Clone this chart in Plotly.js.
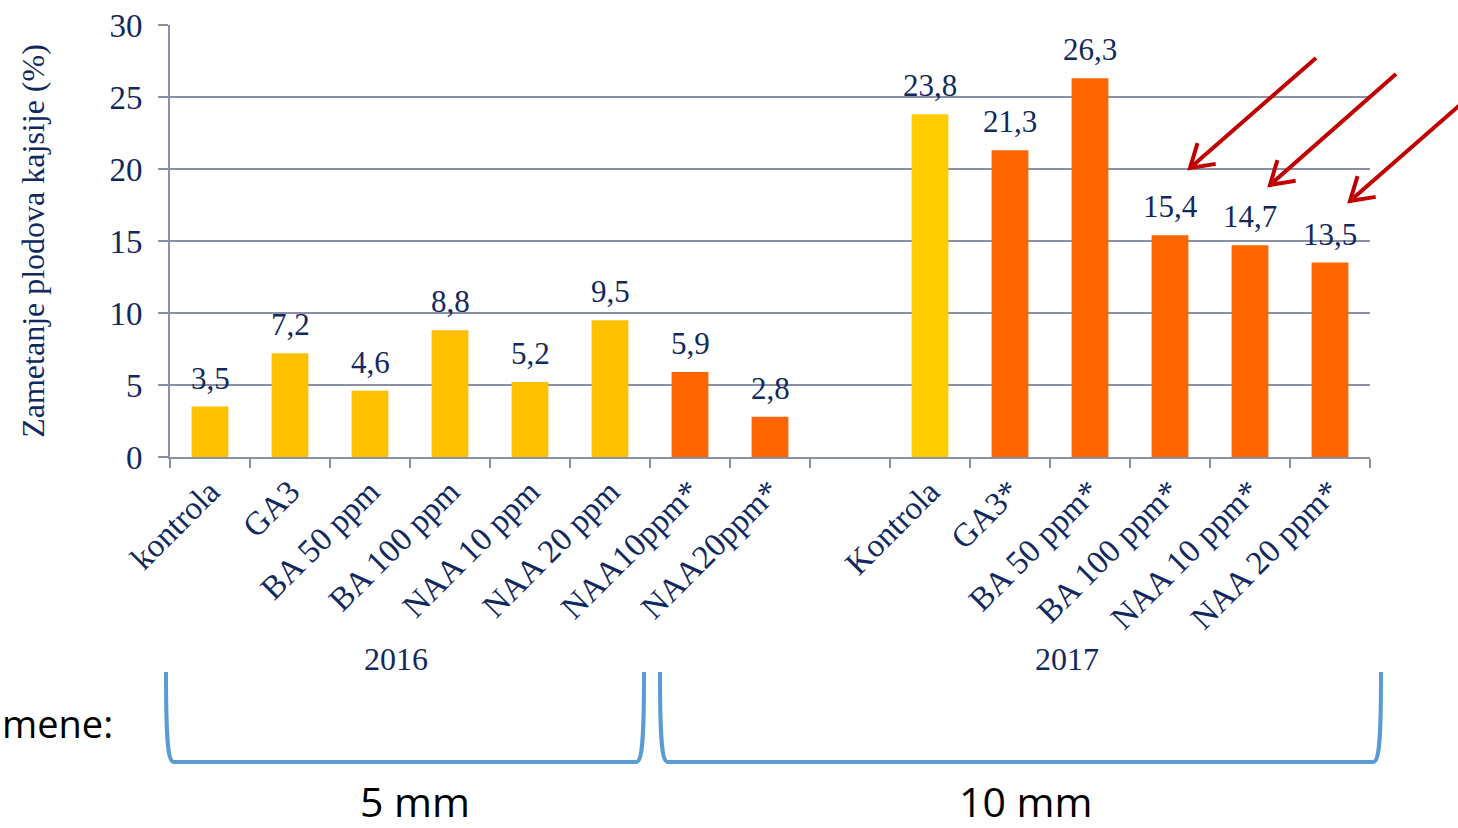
<!DOCTYPE html>
<html>
<head>
<meta charset="utf-8">
<script src="https://cdn.plot.ly/plotly-3.0.1.min.js"></script>
<style>html,body{margin:0;padding:0;background:#fff;}#chart{width:1458px;height:828px;}</style>
</head>
<body>
<div id="chart"></div>
<script>
// ---- data ----
const categories = ["kontrola","GA3","BA 50 ppm","BA 100 ppm","NAA 10 ppm","NAA 20 ppm","NAA10ppm*","NAA20ppm*"," ",
                    "Kontrola","GA3*","BA 50 ppm*","BA 100 ppm*","NAA 10 ppm*","NAA 20 ppm*"];
const values = [3.5,7.2,4.6,8.8,5.2,9.5,5.9,2.8,null,23.8,21.3,26.3,15.4,14.7,13.5];
const barColors = ["#FFC000","#FFC000","#FFC000","#FFC000","#FFC000","#FFC000","#FF6600","#FF6600","#FFFFFF",
                   "#FFCC00","#FF6600","#FF6600","#FF6600","#FF6600","#FF6600"];
const yearLabels = ["2016","2017"];
const sizeLabels = ["5 mm","10 mm"];
const yTitle = "Zametanje plodova kajsije (%)";

// ---- layout helpers (pixel -> paper) ----
const L=170, R=1370, T=25, B=457;
const W=R-L, H=B-T;
const px=x=>(x-L)/W, py=y=>(B-y)/H;

const navy="#11295E", grid="#8B90A6", serif="Liberation Serif";
const sans="Open Sans";

function arrowPath(tx,ty,sx,sy){
  const dx=sx-tx, dy=sy-ty, len=Math.hypot(dx,dy), ux=dx/len, uy=dy/len;
  const wl=26, a=32*Math.PI/180;
  const w1x=tx+wl*(ux*Math.cos(a)-uy*Math.sin(a)), w1y=ty+wl*(ux*Math.sin(a)+uy*Math.cos(a));
  const w2x=tx+wl*(ux*Math.cos(-a)-uy*Math.sin(-a)), w2y=ty+wl*(ux*Math.sin(-a)+uy*Math.cos(-a));
  const p=(x,y)=>px(x).toFixed(5)+","+py(y).toFixed(5);
  return "M"+p(sx,sy)+" L"+p(tx,ty)+" M"+p(w1x,w1y)+" L"+p(tx,ty)+" L"+p(w2x,w2y);
}
function bracketPath(x1,x2,top,bot){
  const p=(x,y)=>px(x).toFixed(5)+","+py(y).toFixed(5);
  return "M"+p(x1,top)+" C"+p(x1,bot-30)+" "+p(x1+1,bot)+" "+p(x1+8,bot)+
         " L"+p(x2-8,bot)+" C"+p(x2-1,bot)+" "+p(x2,bot-30)+" "+p(x2,top);
}

const trace={
  type:"bar", x:categories, y:values,
  marker:{color:barColors},
  hoverinfo:"skip"
};

const valueAnnotations = categories.map((c,i)=>values[i]===null?null:({
  x:c, y:values[i], xref:"x", yref:"y", text:values[i].toFixed(1).replace(".",","),
  showarrow:false, xanchor:"center", yanchor:"bottom", yshift:9,
  font:{family:serif,size:31,color:navy}
})).filter(a=>a);

const layout={
  width:1458, height:828,
  margin:{l:L, r:1458-R, t:T, b:828-B},
  paper_bgcolor:"#fff", plot_bgcolor:"#fff",
  showlegend:false, bargap:0.54, separators:",.",
  font:{family:serif,color:navy},
  xaxis:{
    type:"category", tickangle:-45, tickson:"boundaries",
    ticks:"outside", ticklen:9, tickwidth:2, tickcolor:grid,
    showline:true, linecolor:grid, linewidth:2, showgrid:false,
    tickfont:{family:serif,size:33,color:navy}, fixedrange:true
  },
  yaxis:{
    range:[0,30], dtick:5, showgrid:true, gridcolor:grid, gridwidth:2,
    showline:true, linecolor:grid, linewidth:2, zeroline:false,
    ticks:"outside", ticklen:10, tickwidth:2, tickcolor:grid,
    ticklabelstandoff:9,
    tickfont:{family:serif,size:33,color:navy},
    title:{text:yTitle, font:{family:serif,size:32,color:navy}, standoff:55},
    fixedrange:true
  },
  shapes:[
    {type:"path", xref:"paper", yref:"paper", path:bracketPath(166,644,672,762), line:{color:"#5B9BD5",width:4}},
    {type:"path", xref:"paper", yref:"paper", path:bracketPath(660,1381,672,762), line:{color:"#5B9BD5",width:4}},
    {type:"path", xref:"paper", yref:"paper", path:arrowPath(1190,168,1316,58), line:{color:"#C00000",width:4}},
    {type:"path", xref:"paper", yref:"paper", path:arrowPath(1270,185,1396,74), line:{color:"#C00000",width:4}},
    {type:"path", xref:"paper", yref:"paper", path:arrowPath(1350,201,1476,91), line:{color:"#C00000",width:4}}
  ],
  annotations:valueAnnotations.concat([
    {text:yearLabels[0], xref:"paper", yref:"paper", x:px(396), y:py(659), showarrow:false, xanchor:"center", yanchor:"middle", font:{family:serif,size:32,color:navy}},
    {text:yearLabels[1], xref:"paper", yref:"paper", x:px(1067), y:py(659), showarrow:false, xanchor:"center", yanchor:"middle", font:{family:serif,size:32,color:navy}},
    {text:"mene:", xref:"paper", yref:"paper", x:px(115), y:py(723), showarrow:false, xanchor:"right", yanchor:"middle", font:{family:sans,size:38,color:"#000"}},
    {text:sizeLabels[0], xref:"paper", yref:"paper", x:px(415), y:py(801), showarrow:false, xanchor:"center", yanchor:"middle", font:{family:sans,size:41,color:"#000"}},
    {text:sizeLabels[1], xref:"paper", yref:"paper", x:px(1025), y:py(801), showarrow:false, xanchor:"center", yanchor:"middle", font:{family:sans,size:41,color:"#000"}}
  ])
};

Plotly.newPlot("chart",[trace],layout,{displayModeBar:false,staticPlot:true});
</script>
</body>
</html>
